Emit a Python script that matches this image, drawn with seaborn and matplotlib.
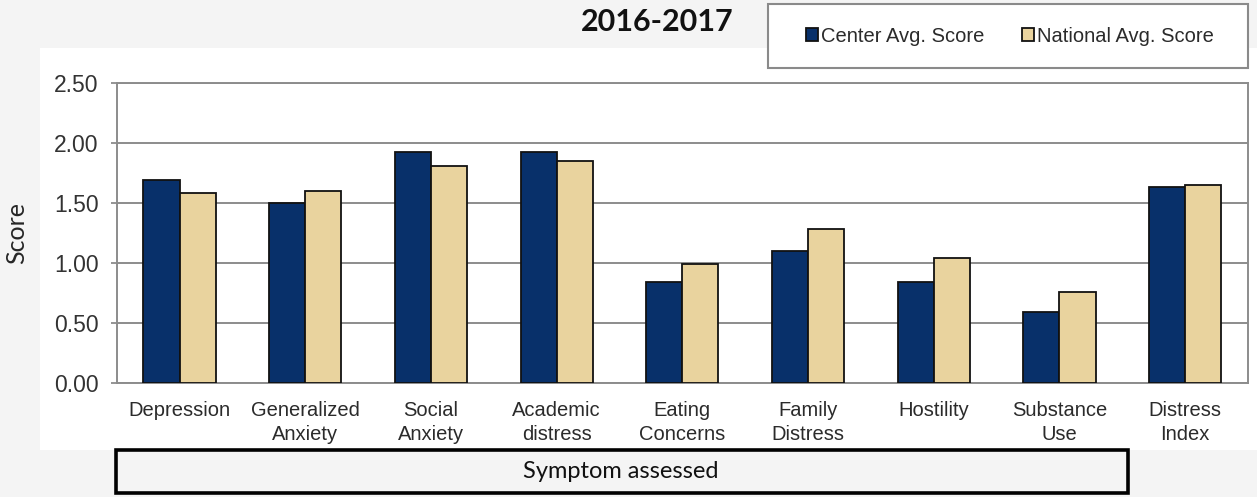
import matplotlib
matplotlib.use("Agg")
import matplotlib.pyplot as plt
from matplotlib.patches import Rectangle
import pandas as pd
import seaborn as sns

# Symptom categories (two-line labels as printed under the bars)
categories = [
    "Depression", "Generalized\nAnxiety", "Social\nAnxiety", "Academic\ndistress",
    "Eating\nConcerns", "Family\nDistress", "Hostility", "Substance\nUse", "Distress\nIndex",
]
series_names = ["Center Avg. Score", "National Avg. Score"]
center_scores = [1.69, 1.50, 1.92, 1.92, 0.84, 1.10, 0.84, 0.59, 1.63]
national_scores = [1.58, 1.60, 1.81, 1.85, 0.99, 1.28, 1.04, 0.76, 1.65]
y_ticks = [0.0, 0.5, 1.0, 1.5, 2.0, 2.5]

NAVY = "#08306a"
TAN = "#e9d39e"
GRID = "#8c8c8c"

df = pd.DataFrame({
    "Symptom": categories * 2,
    "Series": [series_names[0]] * len(categories) + [series_names[1]] * len(categories),
    "Score": center_scores + national_scores,
})

sns.set_style("white")
plt.rcParams["font.family"] = ["Liberation Sans", "DejaVu Sans"]

W, H = 1257, 497
fig = plt.figure(figsize=(W / 100, H / 100), dpi=100)
fig.patch.set_facecolor("#f4f4f4")

# white chart panel behind the plot
panel = fig.add_axes([40 / W, 1 - 450 / H, (W - 40) / W, (450 - 48) / H], zorder=-10)
panel.set_axis_off()
panel.add_patch(Rectangle((0, 0), 1, 1, transform=panel.transAxes,
                          facecolor="white", edgecolor="none"))

AX_L, AX_R, AX_T, AX_B = 116.7, 1248.0, 82.7, 383.3
ax = fig.add_axes([AX_L / W, 1 - AX_B / H, (AX_R - AX_L) / W, (AX_B - AX_T) / H], zorder=1)
ax.set_facecolor("white")

sns.barplot(data=df, x="Symptom", y="Score", hue="Series", order=categories,
            hue_order=series_names, palette=[NAVY, TAN], width=0.575, gap=0,
            edgecolor="#111111", linewidth=1.3, saturation=1, legend=True, ax=ax,
            zorder=3)

ax.set_ylim(0, 2.5)
ax.set_xlim(-0.5, len(categories) - 0.5)
ax.set_yticks(y_ticks)
ax.set_yticklabels([f"{v:.2f}" for v in y_ticks])
ax.yaxis.grid(True, color=GRID, linewidth=1.4, zorder=0)
ax.set_axisbelow(True)

# tick marks between categories, like a category axis
ax.set_xticks([i - 0.5 for i in range(len(categories) + 1)], minor=True)
ax.tick_params(axis="x", which="major", length=0, pad=13, labelsize=14.5,
               labelcolor="#2b2b2b")
ax.tick_params(axis="x", which="minor", length=4, width=1.3, color=GRID, direction="out")
ax.tick_params(axis="y", length=4, width=1.3, color=GRID, pad=9, labelsize=16.5,
               labelcolor="#333333", left=True)
for lbl in ax.get_xticklabels():
    lbl.set_linespacing(1.3)

for side in ["left", "bottom", "right", "top"]:
    ax.spines[side].set_visible(True)
    ax.spines[side].set_color(GRID)
    ax.spines[side].set_linewidth(1.4)

ax.set_xlabel("")
ax.set_ylabel("Score", family=["Lato", "DejaVu Sans"], fontsize=18)
ax.yaxis.set_label_coords((28 - AX_L) / (AX_R - AX_L), 0.5)

# legend in its own framed box
handles, labels = ax.get_legend_handles_labels()
ax.get_legend().remove()
fig.patches.append(Rectangle((768 / W, 1 - 68 / H), (1248 - 768) / W, (68 - 4) / H,
                             transform=fig.transFigure, facecolor="white",
                             edgecolor="#8a8a8a", linewidth=1.5, zorder=1))
leg = fig.legend(handles, labels, loc="center", bbox_to_anchor=(1010 / W, 1 - 36 / H),
                 ncol=2, frameon=False, fontsize=14.5, handlelength=0.6,
                 handleheight=0.6, handletextpad=0.15, columnspacing=1.9)
for t in leg.get_texts():
    t.set_color("#2b2b2b")

# title
fig.text(657 / W, 1 - 22 / H, "2016-2017", ha="center", va="center",
         family=["Lato", "DejaVu Sans"], fontweight="bold", fontsize=22, color="#111111")

# boxed axis caption
fig.patches.append(Rectangle((116 / W, 1 - 493 / H), (1128 - 116) / W, (493 - 450) / H,
                             transform=fig.transFigure, facecolor="none",
                             edgecolor="black", linewidth=2.6, zorder=2))
fig.text(621 / W, 1 - 472 / H, "Symptom assessed", ha="center", va="center",
         family=["Lato", "DejaVu Sans"], fontsize=17, color="#111111")

fig.savefig("out.png", dpi=100, facecolor=fig.get_facecolor())
